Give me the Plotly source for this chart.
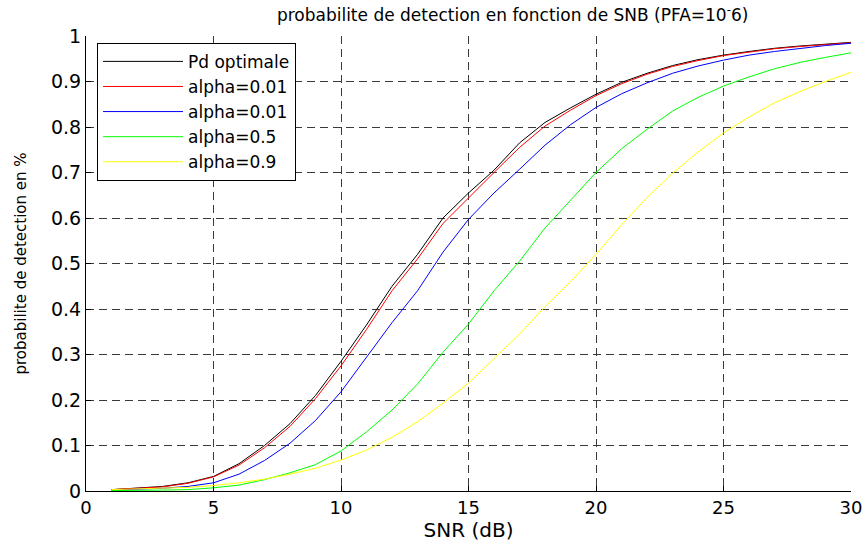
import plotly.graph_objects as go

snr = list(range(1, 31))

pd_opt = [0.003, 0.006, 0.010, 0.018, 0.032, 0.060, 0.100, 0.148, 0.210, 0.285,
          0.365, 0.450, 0.520, 0.600, 0.655, 0.705, 0.765, 0.810, 0.842, 0.872,
          0.898, 0.918, 0.935, 0.948, 0.958, 0.966, 0.973, 0.978, 0.982, 0.986]
red_a001 = [0.003, 0.006, 0.009, 0.017, 0.031, 0.057, 0.095, 0.142, 0.203, 0.275,
            0.355, 0.440, 0.510, 0.588, 0.645, 0.700, 0.755, 0.802, 0.837, 0.869,
            0.895, 0.916, 0.933, 0.946, 0.957, 0.965, 0.972, 0.977, 0.981, 0.985]
blue_a001 = [0.002, 0.004, 0.006, 0.010, 0.018, 0.037, 0.067, 0.105, 0.155, 0.218,
             0.295, 0.370, 0.440, 0.525, 0.597, 0.655, 0.707, 0.760, 0.805, 0.843,
             0.873, 0.897, 0.918, 0.934, 0.947, 0.958, 0.966, 0.973, 0.979, 0.984]
green_a05 = [0.001, 0.001, 0.002, 0.003, 0.007, 0.013, 0.025, 0.040, 0.058, 0.088,
             0.130, 0.178, 0.235, 0.305, 0.367, 0.440, 0.505, 0.578, 0.640, 0.700,
             0.752, 0.795, 0.835, 0.865, 0.890, 0.910, 0.928, 0.942, 0.953, 0.963]
yellow_a09 = [0.003, 0.005, 0.006, 0.008, 0.012, 0.018, 0.026, 0.037, 0.050, 0.068,
              0.090, 0.118, 0.152, 0.193, 0.237, 0.290, 0.345, 0.405, 0.460, 0.520,
              0.585, 0.645, 0.698, 0.745, 0.787, 0.822, 0.853, 0.878, 0.900, 0.920]

names = ["Pd optimale", "alpha=0.01", "alpha=0.01", "alpha=0.5", "alpha=0.9"]
series = [pd_opt, red_a001, blue_a001, green_a05, yellow_a09]
colors = ["#000000", "#ff0000", "#0000ff", "#00ff00", "#ffff00"]

xticks = [0, 5, 10, 15, 20, 25, 30]
yticks = [0, 0.1, 0.2, 0.3, 0.4, 0.5, 0.6, 0.7, 0.8, 0.9, 1]
ytick_text = ["0", "0.1", "0.2", "0.3", "0.4", "0.5", "0.6", "0.7", "0.8", "0.9", "1"]

FONT = "DejaVu Sans, Liberation Sans, Arial, sans-serif"

fig = go.Figure()
for name, ys, col in zip(names, series, colors):
    fig.add_trace(go.Scatter(x=snr, y=ys, mode="lines", name=name,
                             line=dict(color=col, width=1)))

grid = dict(showgrid=True, gridcolor="#3a3a3a", gridwidth=1, griddash="8px,5px")

fig.update_layout(
    width=866, height=542,
    margin=dict(l=86, r=15, t=36, b=51),
    paper_bgcolor="white", plot_bgcolor="white",
    font=dict(family=FONT, size=17, color="black"),
    title=dict(text="probabilite de detection en fonction de SNB (PFA=10<sup>-</sup>6)",
               x=0.592, xanchor="center", y=0.972, yanchor="middle",
               font=dict(size=17)),
    xaxis=dict(range=[0, 30], tickvals=xticks, ticks="inside", ticklen=5,
               tickcolor="black", showline=True, linecolor="black", linewidth=1,
               zeroline=False, tickfont=dict(size=18),
               title=dict(text="SNR (dB)", font=dict(size=20), standoff=1),
               automargin=False, **grid),
    yaxis=dict(range=[0, 1], tickvals=yticks, ticktext=ytick_text, ticks="inside",
               ticklen=5, tickcolor="black", showline=True, linecolor="black",
               linewidth=1, zeroline=False, tickfont=dict(size=19),
               title=dict(text="probabilite de detection en %", font=dict(size=15),
                          standoff=20),
               automargin=False, **grid),
    xaxis2=dict(range=[0, 30], tickvals=xticks, overlaying="x", side="top",
                ticks="inside", ticklen=5, tickcolor="black", showticklabels=False,
                showgrid=False, zeroline=False, showline=False),
    yaxis2=dict(range=[0, 1], tickvals=yticks, overlaying="y", side="right",
                ticks="inside", ticklen=5, tickcolor="black", showticklabels=False,
                showgrid=False, zeroline=False, showline=False),
    legend=dict(x=0.0144, y=0.985, xanchor="left", yanchor="top",
                bgcolor="white", bordercolor="black", borderwidth=1,
                font=dict(size=17), itemwidth=80, tracegroupgap=0,
                entrywidth=125, entrywidthmode="pixels"),
    showlegend=True,
)

fig.write_html("out.html")
